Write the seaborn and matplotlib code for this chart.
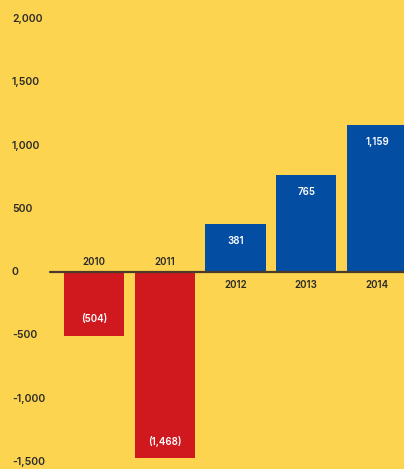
import matplotlib
matplotlib.use("Agg")
import matplotlib.pyplot as plt
import matplotlib.transforms as mtransforms
import seaborn as sns
import pandas as pd

years = ["2010", "2011", "2012", "2013", "2014"]
values = [-504, -1468, 381, 765, 1159]
value_labels = ["(504)", "(1,468)", "381", "765", "1,159"]
y_ticks = [2000, 1500, 1000, 500, 0, -500, -1000, -1500]
y_tick_labels = ["2,000", "1,500", "1,000", "500", "0", "-500", "-1,000", "-1,500"]

BG = "#FDD44F"
RED = "#D0191F"
BLUE = "#034EA2"
TEXT = "#2A2A2A"

sns.set_theme(style="white")
plt.rcParams["font.family"] = ["Inter", "DejaVu Sans"]

df = pd.DataFrame({"year": years, "value": values})
df["sign"] = ["neg" if v < 0 else "pos" for v in values]

fig = plt.figure(figsize=(4.04, 4.69), dpi=100, facecolor=BG)
ax = fig.add_axes([0, 0, 1, 1], facecolor=BG)

sns.barplot(data=df, x="year", y="value", hue="sign",
            palette={"neg": RED, "pos": BLUE}, width=0.85,
            dodge=False, legend=False, saturation=1, linewidth=0,
            ax=ax)

ax.set_xlim(-1.329, 4.382)
ax.set_ylim(-1555, 2150)
ax.axis("off")

# zero baseline
ax.axhline(0, xmin=50 / 404, xmax=1, color="#4B3A2A", lw=1.6, zorder=3)

# y-axis labels, left aligned near the edge
trans = mtransforms.blended_transform_factory(ax.transAxes, ax.transData)
for t, lab in zip(y_ticks, y_tick_labels):
    ax.text(12 / 404, t, lab, transform=trans, ha="left", va="center",
            fontsize=7.5, color=TEXT, fontweight="semibold")

# year labels on the opposite side of the baseline from the bar
for i, (yr, v) in enumerate(zip(years, values)):
    off = 7 if v < 0 else -9.5
    ax.annotate(yr, (i, 0), xytext=(0, off), textcoords="offset points",
                ha="center", va="center", fontsize=7, color=TEXT,
                fontweight="semibold")

# value labels inside the bar ends
for i, (v, lab) in enumerate(zip(values, value_labels)):
    off = 12 if v < 0 else -12
    ax.annotate(lab, (i, v), xytext=(0, off), textcoords="offset points",
                ha="center", va="center", fontsize=7, color="white",
                fontweight="semibold")

fig.savefig("out.png", dpi=100, facecolor=BG)
